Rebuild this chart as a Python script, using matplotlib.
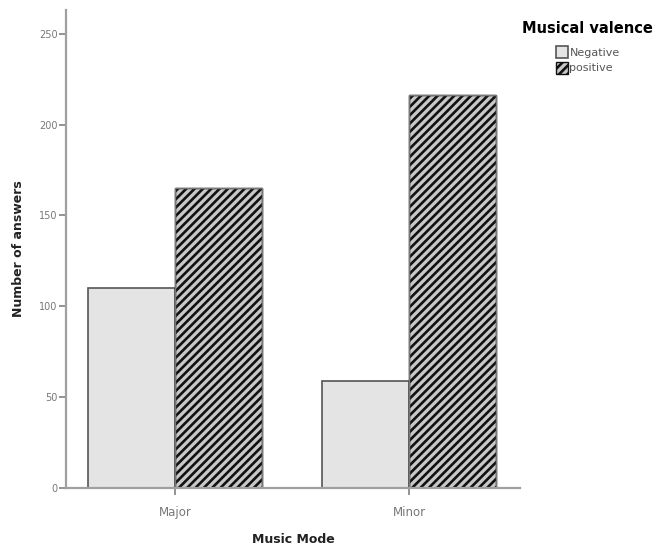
import numpy as np
import matplotlib.pyplot as plt

modes = ["Major", "Minor"]
negative = [110, 59]
positive = [165, 216]
yticks = [0, 50, 100, 150, 200, 250]

plt.rcParams["hatch.linewidth"] = 1.9

fig = plt.figure(figsize=(6.68, 5.45), dpi=100)
ax = fig.add_axes([0.0988, 0.1046, 0.6796, 0.877])

x = np.arange(len(modes))
w = 0.37
edge = "#555555"
b1 = ax.bar(x - w / 2, negative, w, color="#e4e4e4", edgecolor=edge, linewidth=1.2, label="Negative")
b2 = ax.bar(x + w / 2, positive, w, color="#c8c8c8", edgecolor="#111111", linewidth=1.0,
            hatch="////", label="positive")
# grey outline on top of the hatched bars
ax.bar(x + w / 2, positive, w, fill=False, edgecolor="#777777", linewidth=1.0)

ax.set_xlim(-0.466, 1.474)
ax.set_ylim(0, 263)
ax.set_xticks([0, 1])
ax.set_xticklabels(modes)
ax.set_yticks(yticks)

for s in ["top", "right"]:
    ax.spines[s].set_visible(False)
for s in ["left", "bottom"]:
    ax.spines[s].set_color("#a0a0a0")
    ax.spines[s].set_linewidth(1.6)
ax.tick_params(axis="both", colors="#808080", labelcolor="#777777", labelsize=7, length=5, width=1.2)
ax.tick_params(axis="x", labelsize=8.5, pad=8)
ax.tick_params(axis="y", pad=1)

ax.set_xlabel("Music Mode", fontsize=9, fontweight="bold", color="#222222", labelpad=10)
ax.set_ylabel("Number of answers", fontsize=9, fontweight="bold", color="#222222", labelpad=10)

leg = fig.legend(handles=[b1, b2], labels=["Negative", "positive"], title="Musical valence",
                 loc="upper left", bbox_to_anchor=(0.77, 0.975), frameon=False,
                 fontsize=8, handlelength=1.1, handleheight=1.25, handletextpad=0.15,
                 labelspacing=0.35, borderpad=0.2)
leg.get_title().set_fontweight("bold")
leg.get_title().set_fontsize(10.5)
leg._legend_box.sep = 7
for t in leg.get_texts():
    t.set_color("#555555")

fig.savefig("out.png", dpi=100)
